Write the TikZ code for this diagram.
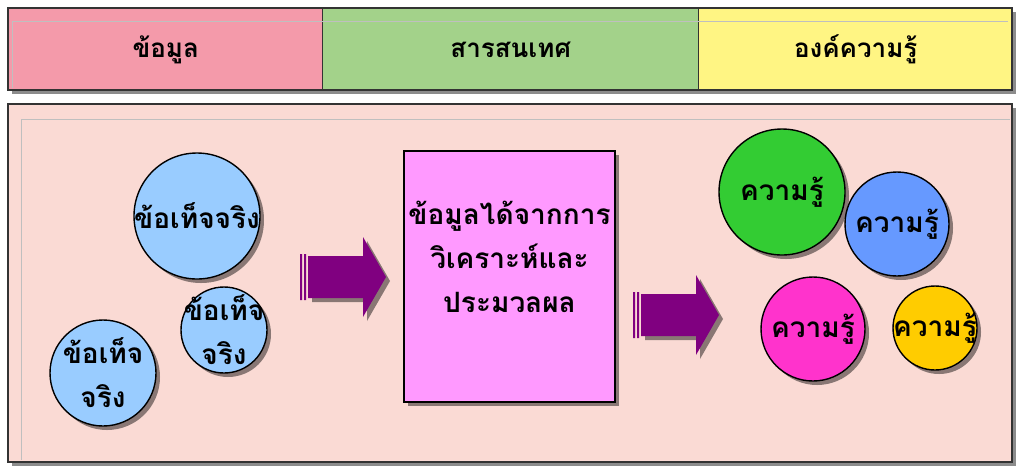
\documentclass[tikz,border=0pt]{standalone}
\usepackage{fontspec}
\newfontfamily\thaifont[Script=Thai]{Loma}
\usetikzlibrary{shadows}
\definecolor{datapink}{HTML}{F49AAA}
\definecolor{infogreen}{HTML}{A3D28A}
\definecolor{knowyellow}{HTML}{FFF583}
\definecolor{panelpink}{HTML}{FADAD4}
\definecolor{factblue}{HTML}{99CCFF}
\definecolor{procpink}{HTML}{FF99FF}
\definecolor{arrowpurple}{HTML}{800080}
\definecolor{kgreen}{HTML}{33CC33}
\definecolor{kblue}{HTML}{6699FF}
\definecolor{kmagenta}{HTML}{FF33CC}
\definecolor{kyellow}{HTML}{FFCC00}
\tikzset{
  shade/.style={drop shadow={shadow xshift=2pt,shadow yshift=-2pt,opacity=.45,fill=black}},
  frame/.style={draw=black!80,line width=0.9pt},
  cell/.style={rectangle,draw=black!80,line width=0.7pt,anchor=north west,minimum height=41pt,
    inner sep=0pt,font=\thaifont\bfseries\fontsize{13}{16}\selectfont},
  bubble/.style={circle,draw=black,line width=0.7pt,inner sep=0pt,shade},
  thai/.style={font=\thaifont\bfseries\fontsize{14}{22}\selectfont,align=center}
}
\begin{document}
\begin{tikzpicture}[x=0.5pt,y=-0.5pt]
\useasboundingbox (0,0) rectangle (1020,472);
% header
\fill[white,shade] (8,8) rectangle (1012,90);
\node[cell,fill=datapink,minimum width=157pt] (data) at (8,8) {ข้อมูล};
\node[cell,fill=infogreen,minimum width=188pt] (info) at (322,8) {สารสนเทศ};
\node[cell,fill=knowyellow,minimum width=157pt] (know) at (698,8) {องค์ความรู้};
\draw[black!25,line width=0.4pt] (12,88) -- (12,21) -- (1008,21);
\draw[frame] (8,8) rectangle (1012,90);

% panel
\fill[panelpink,shade] (8,104) rectangle (1012,462);
\draw[black!25,line width=0.4pt] (21,460) -- (21,119) -- (1010,119);
\draw[frame] (8,104) rectangle (1012,462);

% facts
\node[bubble,fill=factblue,minimum size=63pt,label={[thai]center:ข้อเท็จจริง}] (factA) at (197,216) {};
\node[bubble,fill=factblue,minimum size=43pt,label={[thai]center:ข้อเท็จ\\จริง}] (factB) at (224,330) {};
\node[bubble,fill=factblue,minimum size=53pt,label={[thai]center:ข้อเท็จ\\จริง}] (factC) at (103,373) {};

% arrows
\foreach \ax/\ay in {308/277,641/315}{
\begin{scope}[shift={(\ax,\ay)}]
\fill[arrowpurple,shade] (0,-21) -- (55,-21) -- (55,-40) -- (78,0) -- (55,40) -- (55,21) -- (0,21) -- cycle;
\fill[arrowpurple] (-8,-23) rectangle (-6,23) (-4,-23) rectangle (-2,23);
\end{scope}}

% process
\node[rectangle,draw=black,line width=0.7pt,fill=procpink,shade,minimum width=105.5pt,minimum height=125.5pt,
  label={[thai,yshift=10pt]center:ข้อมูลได้จากการ\\วิเคราะห์และ\\ประมวลผล}] (proc) at (509.5,276.5) {};

% knowledge
\node[bubble,fill=kgreen,minimum size=63pt,label={[thai]center:ความรู้}] (knowA) at (782,192) {};
\node[bubble,fill=kblue,minimum size=52pt,label={[thai]center:ความรู้}] (knowB) at (897,224) {};
\node[bubble,fill=kmagenta,minimum size=52pt,label={[thai]center:ความรู้}] (knowC) at (813,329) {};
\node[bubble,fill=kyellow,minimum size=42pt,label={[thai]center:ความรู้}] (knowD) at (935,328) {};
\end{tikzpicture}
\end{document}
